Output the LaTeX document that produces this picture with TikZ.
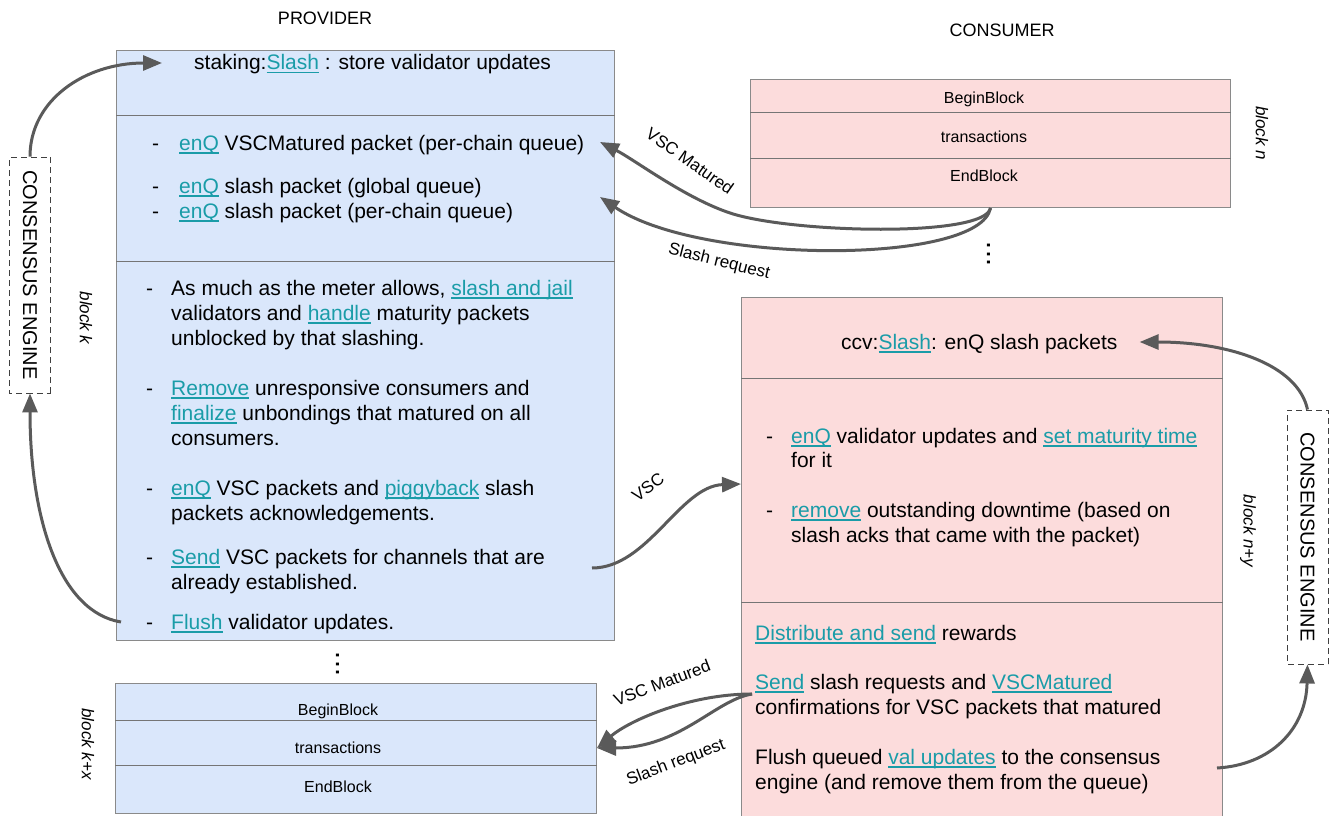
\documentclass[tikz,border=0pt]{standalone}
\usepackage{fontspec}
\setmainfont{Liberation Sans}
\usetikzlibrary{arrows.meta}

\definecolor{provfill}{HTML}{DAE7FB}
\definecolor{consfill}{HTML}{FCDCDC}
\definecolor{linkc}{HTML}{1A9CA8}
\definecolor{arrowc}{HTML}{5A5A5A}
\definecolor{framec}{HTML}{8A8A8A}

% hyperlink-looking text (underline at a fixed depth) and bullet dashes
\newcommand\lk[1]{{\color{linkc}\setbox0\hbox{#1}\rlap{\rule[-3.5pt]{\wd0}{1.1pt}}\box0}}
\newcommand\bulA{\makebox[27pt][l]{-}}
\newcommand\bulB{\makebox[25pt][l]{-}}

\begin{document}
\begin{tikzpicture}[x=1pt,y=-1pt,
  frame/.style={draw=framec, line width=1pt, inner sep=0pt, anchor=north west},
  sepline/.style={draw=framec!85!black, line width=0.8pt},
  body/.style={font=\fontsize{21}{25}\selectfont, anchor=west, inner sep=0pt, text height=14pt, text depth=0pt},
  small/.style={font=\fontsize{16}{19}\selectfont, inner sep=0pt, text height=11.5pt, text depth=0pt},
  head/.style={font=\fontsize{18}{21}\selectfont, inner sep=0pt},
  side/.style={font=\fontsize{17}{20}\selectfont\itshape, rotate=-90, inner sep=0pt},
  lab/.style={font=\fontsize{17}{20}\selectfont, inner sep=0pt},
  dots/.style={font=\fontsize{29}{30}\selectfont, inner sep=0pt, text height=3pt, text depth=0pt, rotate=90},
  engine/.style={draw=black!75, dash pattern=on 6pt off 4pt, line width=0.9pt, fill=white,
    font=\fontsize{20}{24}\selectfont, inner sep=0pt, minimum height=41pt, rotate=-90},
  conn/.style={draw=arrowc, line width=3pt, -{Triangle[length=19pt,width=15pt]}}
]
\useasboundingbox (0,0) rectangle (1330,816);

% ---------- headings ----------
\node[head] (hprov) at (325,18) {PROVIDER};
\node[head] (hcons) at (1002,30) {CONSUMER};

% ---------- provider block k ----------
\node[frame, fill=provfill, minimum width=498pt, minimum height=590pt] (prov) at (116,50) {};
\draw[sepline] (prov.west |- 0,115) -- (prov.east |- 0,115);
\draw[sepline] (prov.west |- 0,261) -- (prov.east |- 0,261);

\node[body] (p0) at (194,63) {staking:\lk{Slash} : store validator updates};
\node[body] (p1) at (152,143) {\bulA\lk{enQ} VSCMatured packet (per-chain queue)};
\node[body] (p2) at (152,186) {\bulA\lk{enQ} slash packet (global queue)};
\node[body] (p3) at (152,211) {\bulA\lk{enQ} slash packet (per-chain queue)};

\node[body] (p4a) at (146,288) {\bulB As much as the meter allows, \lk{slash and jail}};
\node[body] (p4b) at (171,313) {validators and \lk{handle} maturity packets};
\node[body] (p4c) at (171,338) {unblocked by that slashing.};
\node[body] (p5a) at (146,388) {\bulB\lk{Remove} unresponsive consumers and};
\node[body] (p5b) at (171,413) {\lk{finalize} unbondings that matured on all};
\node[body] (p5c) at (171,438) {consumers.};
\node[body] (p6a) at (146,488) {\bulB\lk{enQ} VSC packets and \lk{piggyback} slash};
\node[body] (p6b) at (171,513) {packets acknowledgements.};
\node[body] (p7a) at (146,557) {\bulB\lk{Send} VSC packets for channels that are};
\node[body] (p7b) at (171,582) {already established.};
\node[body] (p8) at (146,622) {\bulB\lk{Flush} validator updates.};

\node[side] (bk) at (86,318) {block k};
\node[engine, minimum width=236pt] (ceL) at (30,275) {CONSENSUS ENGINE};

% ---------- provider block k+x ----------
\node[dots] (dotsP) at (338,664) {...};
\node[frame, fill=provfill, minimum width=481pt, minimum height=130pt] (blkkx) at (115,683) {};
\draw[sepline] (blkkx.west |- 0,720) -- (blkkx.east |- 0,720);
\draw[sepline] (blkkx.west |- 0,765) -- (blkkx.east |- 0,765);
\node[small] (kxb) at (338,710) {BeginBlock};
\node[small] (kxt) at (338,748) {transactions};
\node[small] (kxe) at (338,787) {EndBlock};
\node[side] (bkx) at (88,744) {block k+x};

% ---------- consumer block n ----------
\node[frame, fill=consfill, minimum width=480pt, minimum height=128pt] (blkn) at (750,79) {};
\draw[sepline] (blkn.west |- 0,112) -- (blkn.east |- 0,112);
\draw[sepline] (blkn.west |- 0,158) -- (blkn.east |- 0,158);
\node[small] (nb) at (984,98) {BeginBlock};
\node[small] (nt) at (984,137) {transactions};
\node[small] (ne) at (984,176) {EndBlock};
\node[side] (bn) at (1262,133) {block n};
\node[dots] (dotsC) at (989,254) {...};

% ---------- consumer block n+y ----------
\node[frame, fill=consfill, minimum width=481pt, minimum height=525pt] (cons) at (741,297) {};
\draw[sepline] (cons.west |- 0,378) -- (cons.east |- 0,378);
\draw[sepline] (cons.west |- 0,602) -- (cons.east |- 0,602);

\node[body] (c0) at (841,342) {ccv:\lk{Slash}: enQ slash packets};
\node[body] (c1a) at (766,436) {\bulB\lk{enQ} validator updates and \lk{set maturity time}};
\node[body] (c1b) at (791,460) {for it};
\node[body] (c2a) at (766,510) {\bulB\lk{remove} outstanding downtime (based on};
\node[body] (c2b) at (791,535) {slash acks that came with the packet)};
\node[body] (c3) at (755,633) {\lk{Distribute and send} rewards};
\node[body] (c4a) at (755,682) {\lk{Send} slash requests and \lk{VSCMatured}};
\node[body] (c4b) at (755,707) {confirmations for VSC packets that matured};
\node[body] (c5a) at (755,757) {Flush queued \lk{val updates} to the consensus};
\node[body] (c5b) at (755,782) {engine (and remove them from the queue)};

\node[side] (bny) at (1248,531) {block n+y};
\node[engine, minimum width=254pt] (ceR) at (1307.5,537) {CONSENSUS ENGINE};

% ---------- connector end points ----------
\coordinate (inVSCM) at (600,142);
\coordinate (inSlash) at (600,197);
\coordinate (bendVSCM) at (730,213);
\coordinate (outVSC) at (592,568);
\coordinate (outSend) at (752,694);
\coordinate (outFlush) at (1217,768);

% ---------- connectors ----------
\draw[conn] (ceL.west) .. controls (30,100) and (85,63) .. ([xshift=-32pt]p0.west);
\draw[conn] ([xshift=-25pt]p8.west) .. controls (60,612) and (30,520) .. (ceL.east);

\draw[conn] (blkn.south) .. controls (985,238) and (790,233) .. (bendVSCM)
  .. controls (685,198) and (635,160) .. (inVSCM);
\draw[conn] (blkn.south) .. controls (980,265) and (700,265) .. (inSlash);
\node[lab, rotate=-35] (lm1) at (690,161) {VSC Matured};
\node[lab, rotate=-14] (ls1) at (719,262) {Slash request};

\draw[conn] (outVSC) .. controls (648,568) and (680,486) .. (cons.west |- 0,484);
\node[lab, rotate=36] (lvsc) at (648,487) {VSC};

\draw[conn] (ceR.west) .. controls (1298,365) and (1230,342) .. ([xshift=22pt]c0.east);
\draw[conn] (outFlush) .. controls (1270,765) and (1306,730) .. (ceR.east);

\draw[conn] (outSend) .. controls (715,700) and (680,748) .. (blkkx.east |- 0,748);
\draw[conn] (outSend) .. controls (690,694) and (630,720) .. (blkkx.east |- 0,748);
\node[lab, rotate=21] (lm2) at (662,683) {VSC Matured};
\node[lab, rotate=21] (ls2) at (676,763) {Slash request};

\end{tikzpicture}
\end{document}
